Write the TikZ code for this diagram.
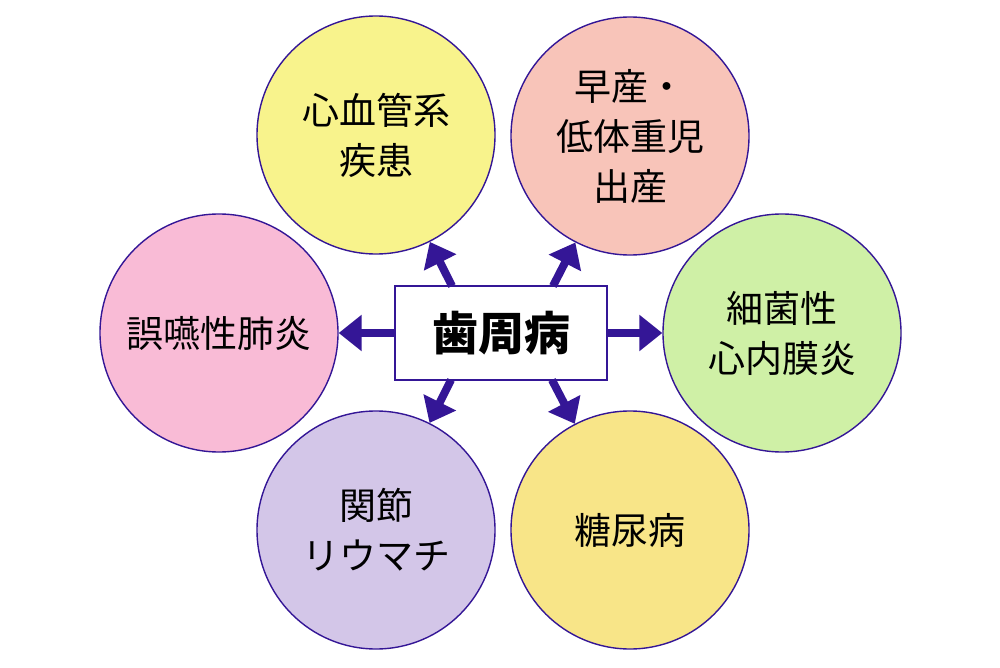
\documentclass[tikz,border=0pt]{standalone}
\usepackage{fontspec}
\setmainfont{Noto Sans CJK JP}
\usetikzlibrary{arrows.meta}
\definecolor{edge}{RGB}{52,22,150}
\definecolor{cyel}{RGB}{248,243,140}
\definecolor{csal}{RGB}{248,196,185}
\definecolor{cpink}{RGB}{249,187,214}
\definecolor{cgreen}{RGB}{207,240,166}
\definecolor{clav}{RGB}{211,198,232}
\definecolor{corange}{RGB}{248,229,136}
\tikzset{
  disease/.style={circle, draw=edge, line width=1.4pt, minimum size=238pt, inner sep=0pt,
    align=center, text=black, font=\fontsize{37}{50}\selectfont},
  hub/.style={rectangle, draw=edge, line width=2pt, fill=white, minimum width=212pt,
    minimum height=94pt, inner sep=0pt, font=\fontsize{46}{50}\selectfont\bfseries},
  arr/.style={draw=edge, line width=8pt, -{Triangle[length=23pt,width=35pt]}}
}
\begin{document}
\begin{tikzpicture}[x=1pt,y=-1pt]
\useasboundingbox[fill=white] (0,0) rectangle (1000,668);
\node[disease, fill=cyel]    (c1) at (376,135) {心血管系\\疾患};
\node[disease, fill=csal]    (c2) at (630,136) {早産・\\低体重児\\出産};
\node[disease, fill=cpink]   (c3) at (219,333) {誤嚥性肺炎};
\node[disease, fill=cgreen]  (c4) at (782,333) {細菌性\\心内膜炎};
\node[disease, fill=clav]    (c5) at (376,530) {関節\\リウマチ};
\node[disease, fill=corange] (c6) at (630,530) {糖尿病};
\node[hub] (h) at (501,333) {歯周病};
\coordinate (s1) at (452,286);
\coordinate (s2) at (553,286);
\coordinate (s5) at (451,380);
\coordinate (s6) at (552,380);
\draw[arr] (s1) -- (c1);
\draw[arr] (s2) -- (c2);
\draw[arr] (h.west) -- (c3);
\draw[arr] (h.east) -- (c4);
\draw[arr] (s5) -- (c5);
\draw[arr] (s6) -- (c6);
\end{tikzpicture}
\end{document}
